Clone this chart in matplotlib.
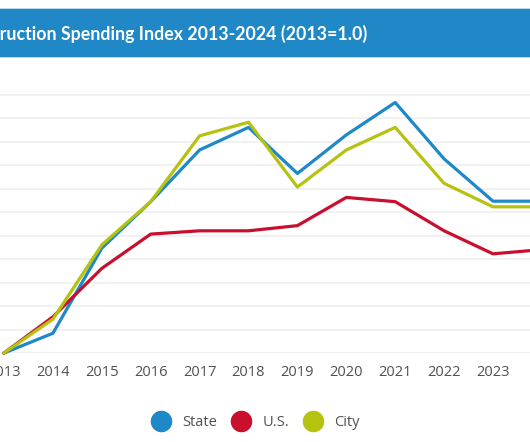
"""Construction spending index, state vs U.S. vs city, cropped view."""
import matplotlib
matplotlib.use("Agg")
import matplotlib.pyplot as plt
from matplotlib.lines import Line2D
from matplotlib.patches import Rectangle

years = list(range(2013, 2025))
state = [1.0, 1.042, 1.223, 1.322, 1.432, 1.480, 1.382, 1.464, 1.533, 1.413, 1.323, 1.323]
us = [1.0, 1.077, 1.180, 1.253, 1.260, 1.260, 1.271, 1.331, 1.322, 1.260, 1.211, 1.220]
city = [1.0, 1.072, 1.230, 1.322, 1.462, 1.491, 1.353, 1.432, 1.480, 1.361, 1.311, 1.311]
series_names = ["State", "U.S.", "City"]
colors = ["#1e88c8", "#c8102e", "#b5c20f"]
title = "Construction Spending Index 2013-2024 (2013=1.0)"

W, H = 530, 442
fig = plt.figure(figsize=(W / 100, H / 100), dpi=100)

# title banner
fig.patches.append(Rectangle((0, 1 - 58 / H), 1, 50 / H, transform=fig.transFigure,
                             facecolor="#b9d9ee", edgecolor="none", zorder=0))
fig.patches.append(Rectangle((0, 1 - 57 / H), 1, 48 / H, transform=fig.transFigure,
                             facecolor="#2088c6", edgecolor="none", zorder=1))
fig.text(367 / W, 1 - 34 / H, title, color="white", fontsize=12.8, fontweight="bold",
         family="Lato", ha="right", va="center")

# axes placed so that the left and right ends are cut off like the source
px_year = 48.9
ax = fig.add_axes([0, (H - 353) / H, 1, (353 - 80) / H])
ax.set_yticks([1.0 + 0.05 * i for i in range(12)])
ax.set_xticks(years)
ax.set_xlim(2013 - 4 / px_year, 2013 + (W - 4) / px_year)
ax.set_ylim(1.0, 1.0 + (353 - 80) / 23.5 * 0.05)

ax.grid(axis="y", color="#ededed", linewidth=1.1)
ax.set_axisbelow(True)
for s in ax.spines.values():
    s.set_visible(False)
ax.tick_params(axis="both", length=0)
ax.tick_params(axis="x", pad=9, labelsize=10.5, labelcolor="#505050")
ax.set_yticklabels([])
for lab in ax.get_xticklabels():
    lab.set_family("Open Sans")

for vals, c in zip([state, us, city], colors):
    ax.plot(years, vals, color=c, linewidth=2.3, clip_on=False, zorder=3)

handles = [Line2D([], [], linestyle="none", marker="o", markersize=14.5,
                  markerfacecolor=c, markeredgecolor=c) for c in colors]
leg = fig.legend(handles, series_names, loc="center", bbox_to_anchor=(256 / W, 1 - 423 / H),
                 ncol=3, frameon=False, handletextpad=0.9, columnspacing=1.0,
                 handlelength=1.2, prop={"family": "Open Sans", "size": 10.5})
for t in leg.get_texts():
    t.set_color("#505050")

fig.savefig("out.png", dpi=100)
